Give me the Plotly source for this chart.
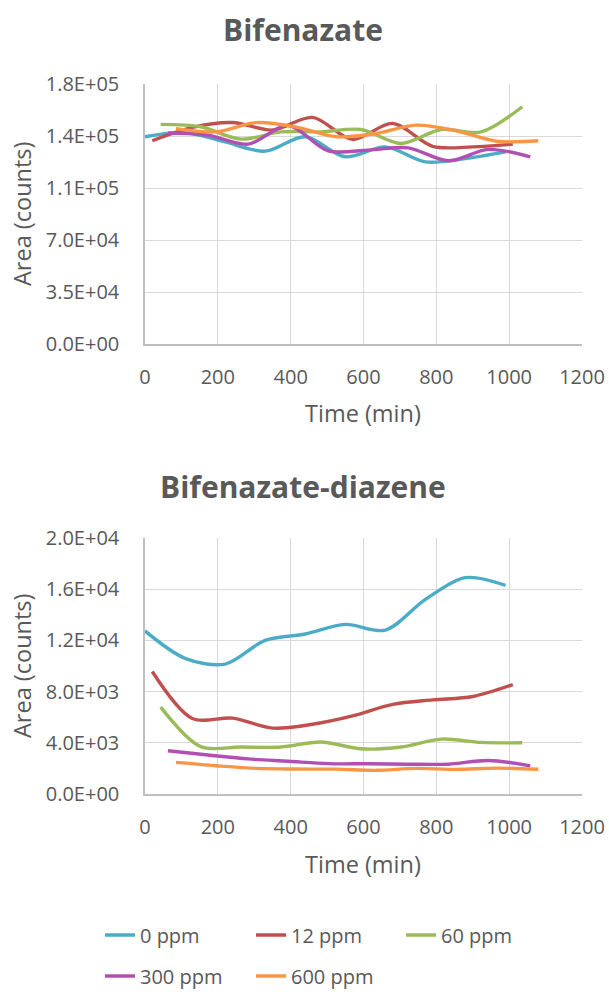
import plotly.graph_objects as go

# ---- data -----------------------------------------------------------------
series_names = ["0 ppm", "12 ppm", "60 ppm", "300 ppm", "600 ppm"]
series_colors = ["#4BACC6", "#C0504D", "#9BBB59", "#B24FB3", "#F79646"]

# sampling times (min) for each concentration
time_0 = [0, 110, 220, 330, 440, 550, 660, 770, 880, 990]
time_12 = [20, 130, 240, 350, 460, 570, 680, 790, 900, 1010]
time_60 = [43, 153, 263, 373, 483, 593, 703, 813, 923, 1036]
time_300 = [63, 173, 283, 393, 503, 613, 723, 833, 943, 1058]
time_600 = [85, 195, 305, 415, 525, 635, 745, 855, 965, 1080]

# Bifenazate peak area (counts)
bif_0 = [139500, 142400, 136000, 129800, 139500, 126000, 132700, 122600, 124800, 129300]
bif_12 = [136800, 145800, 149100, 144000, 152500, 137700, 148500, 133000, 132700, 134500]
bif_60 = [147800, 146200, 137900, 142800, 142800, 144400, 135000, 144400, 142800, 159700]
bif_300 = [142000, 140500, 134500, 147000, 130000, 130500, 132000, 123300, 131000, 126000]
bif_600 = [145000, 142800, 149000, 146000, 139500, 141700, 147300, 143500, 136500, 136800]

# Bifenazate-diazene peak area (counts)
dia_0 = [12740, 10600, 10150, 12000, 12500, 13250, 12800, 15200, 16900, 16300]
dia_12 = [9570, 5900, 5930, 5150, 5450, 6100, 7000, 7350, 7620, 8550]
dia_60 = [6790, 3700, 3670, 3670, 4060, 3530, 3670, 4290, 4030, 4000]
dia_300 = [3380, 3050, 2740, 2560, 2370, 2360, 2330, 2330, 2620, 2200]
dia_600 = [2470, 2210, 2000, 1950, 1940, 1850, 2000, 1920, 2020, 1930]

x_ticks = [0, 200, 400, 600, 800, 1000, 1200]
bif_ticks = [0, 35000, 70000, 105000, 140000, 175000]
bif_ticktext = ["0.0E+00", "3.5E+04", "7.0E+04", "1.1E+05", "1.4E+05", "1.8E+05"]
dia_ticks = [0, 4000, 8000, 12000, 16000, 20000]
dia_ticktext = ["0.0E+00", "4.0E+03", "8.0E+03", "1.2E+04", "1.6E+04", "2.0E+04"]

titles = ["Bifenazate", "Bifenazate-diazene"]
x_title = "Time (min)"
y_title = "Area (counts)"

times = [time_0, time_12, time_60, time_300, time_600]
bif = [bif_0, bif_12, bif_60, bif_300, bif_600]
dia = [dia_0, dia_12, dia_60, dia_300, dia_600]

# ---- geometry (pixels) ------------------------------------------------------
W, H = 609, 992
L, R, T, B = 145, 27, 84, 198
plot_w = W - L - R
plot_h = H - T - B
top_box = (84, 344)
bot_box = (538, 794)

# legend entry anchors (pixel x of the entry, pixel y of the row centre)
legend_pos = [(100, 935), (251, 935), (401, 935), (100, 976), (251, 976)]


def py(pix):
    """pixel row -> paper y"""
    return (H - B - pix) / plot_h


def px(pix):
    """pixel column -> paper x"""
    return (pix - L) / plot_w


FONT = "Open Sans"
GREY = "#595959"
legend_ids = ["legend", "legend2", "legend3", "legend4", "legend5"]

fig = go.Figure()
for i, name in enumerate(series_names):
    fig.add_trace(go.Scatter(
        x=times[i], y=bif[i], name=name, mode="lines",
        line=dict(color=series_colors[i], width=3.4, shape="spline", smoothing=0.9),
        xaxis="x", yaxis="y", legendgroup=name, legend=legend_ids[i],
    ))
for i, name in enumerate(series_names):
    fig.add_trace(go.Scatter(
        x=times[i], y=dia[i], name=name, mode="lines",
        line=dict(color=series_colors[i], width=3.4, shape="spline", smoothing=0.9),
        xaxis="x2", yaxis="y2", legendgroup=name, showlegend=False,
    ))

axis_common = dict(
    showgrid=True, gridcolor="#D9D9D9", gridwidth=1.3,
    showline=True, linecolor="#BFBFBF", linewidth=1.5,
    zeroline=False, ticks="",
    tickfont=dict(family=FONT, size=20, color=GREY),
)

layout = dict(
    width=W, height=H,
    margin=dict(l=L, r=R, t=T, b=B, autoexpand=False),
    paper_bgcolor="white", plot_bgcolor="white",
    font=dict(family=FONT, color=GREY),
    xaxis=dict(axis_common, range=[0, 1200], tickvals=x_ticks, anchor="y",
               ticklabelstandoff=14),
    yaxis=dict(axis_common, range=[0, 175000], tickvals=bif_ticks, ticktext=bif_ticktext,
               domain=[py(top_box[1]), py(top_box[0])], anchor="x", ticklabelstandoff=20),
    xaxis2=dict(axis_common, range=[0, 1200], tickvals=x_ticks, anchor="y2",
                ticklabelstandoff=14),
    yaxis2=dict(axis_common, range=[0, 20000], tickvals=dia_ticks, ticktext=dia_ticktext,
                domain=[py(bot_box[1]), py(bot_box[0])], anchor="x2", ticklabelstandoff=20),
    showlegend=True,
)
for lid, (lx, ly) in zip(legend_ids, legend_pos):
    layout[lid] = dict(
        orientation="h", xref="container", yref="container",
        x=lx / W, xanchor="left", y=1 - ly / H, yanchor="middle",
        font=dict(family=FONT, size=20, color=GREY), bgcolor="rgba(0,0,0,0)",
    )
fig.update_layout(**layout)


def label(text, x_pix, y_pix, size, angle=0):
    return dict(text=text, x=px(x_pix), y=py(y_pix), xref="paper", yref="paper",
                xanchor="center", yanchor="middle", textangle=angle,
                showarrow=False, font=dict(family=FONT, size=size, color=GREY))


fig.update_layout(annotations=[
    label("<b>%s</b>" % titles[0], 303, 29, 30),
    label("<b>%s</b>" % titles[1], 303, 486, 30),
    label(x_title, 363, 413, 23.5),
    label(x_title, 363, 864, 23.5),
    label(y_title, 22, 214, 23.5, -90),
    label(y_title, 22, 666, 23.5, -90),
])

fig.write_html("out.html")
